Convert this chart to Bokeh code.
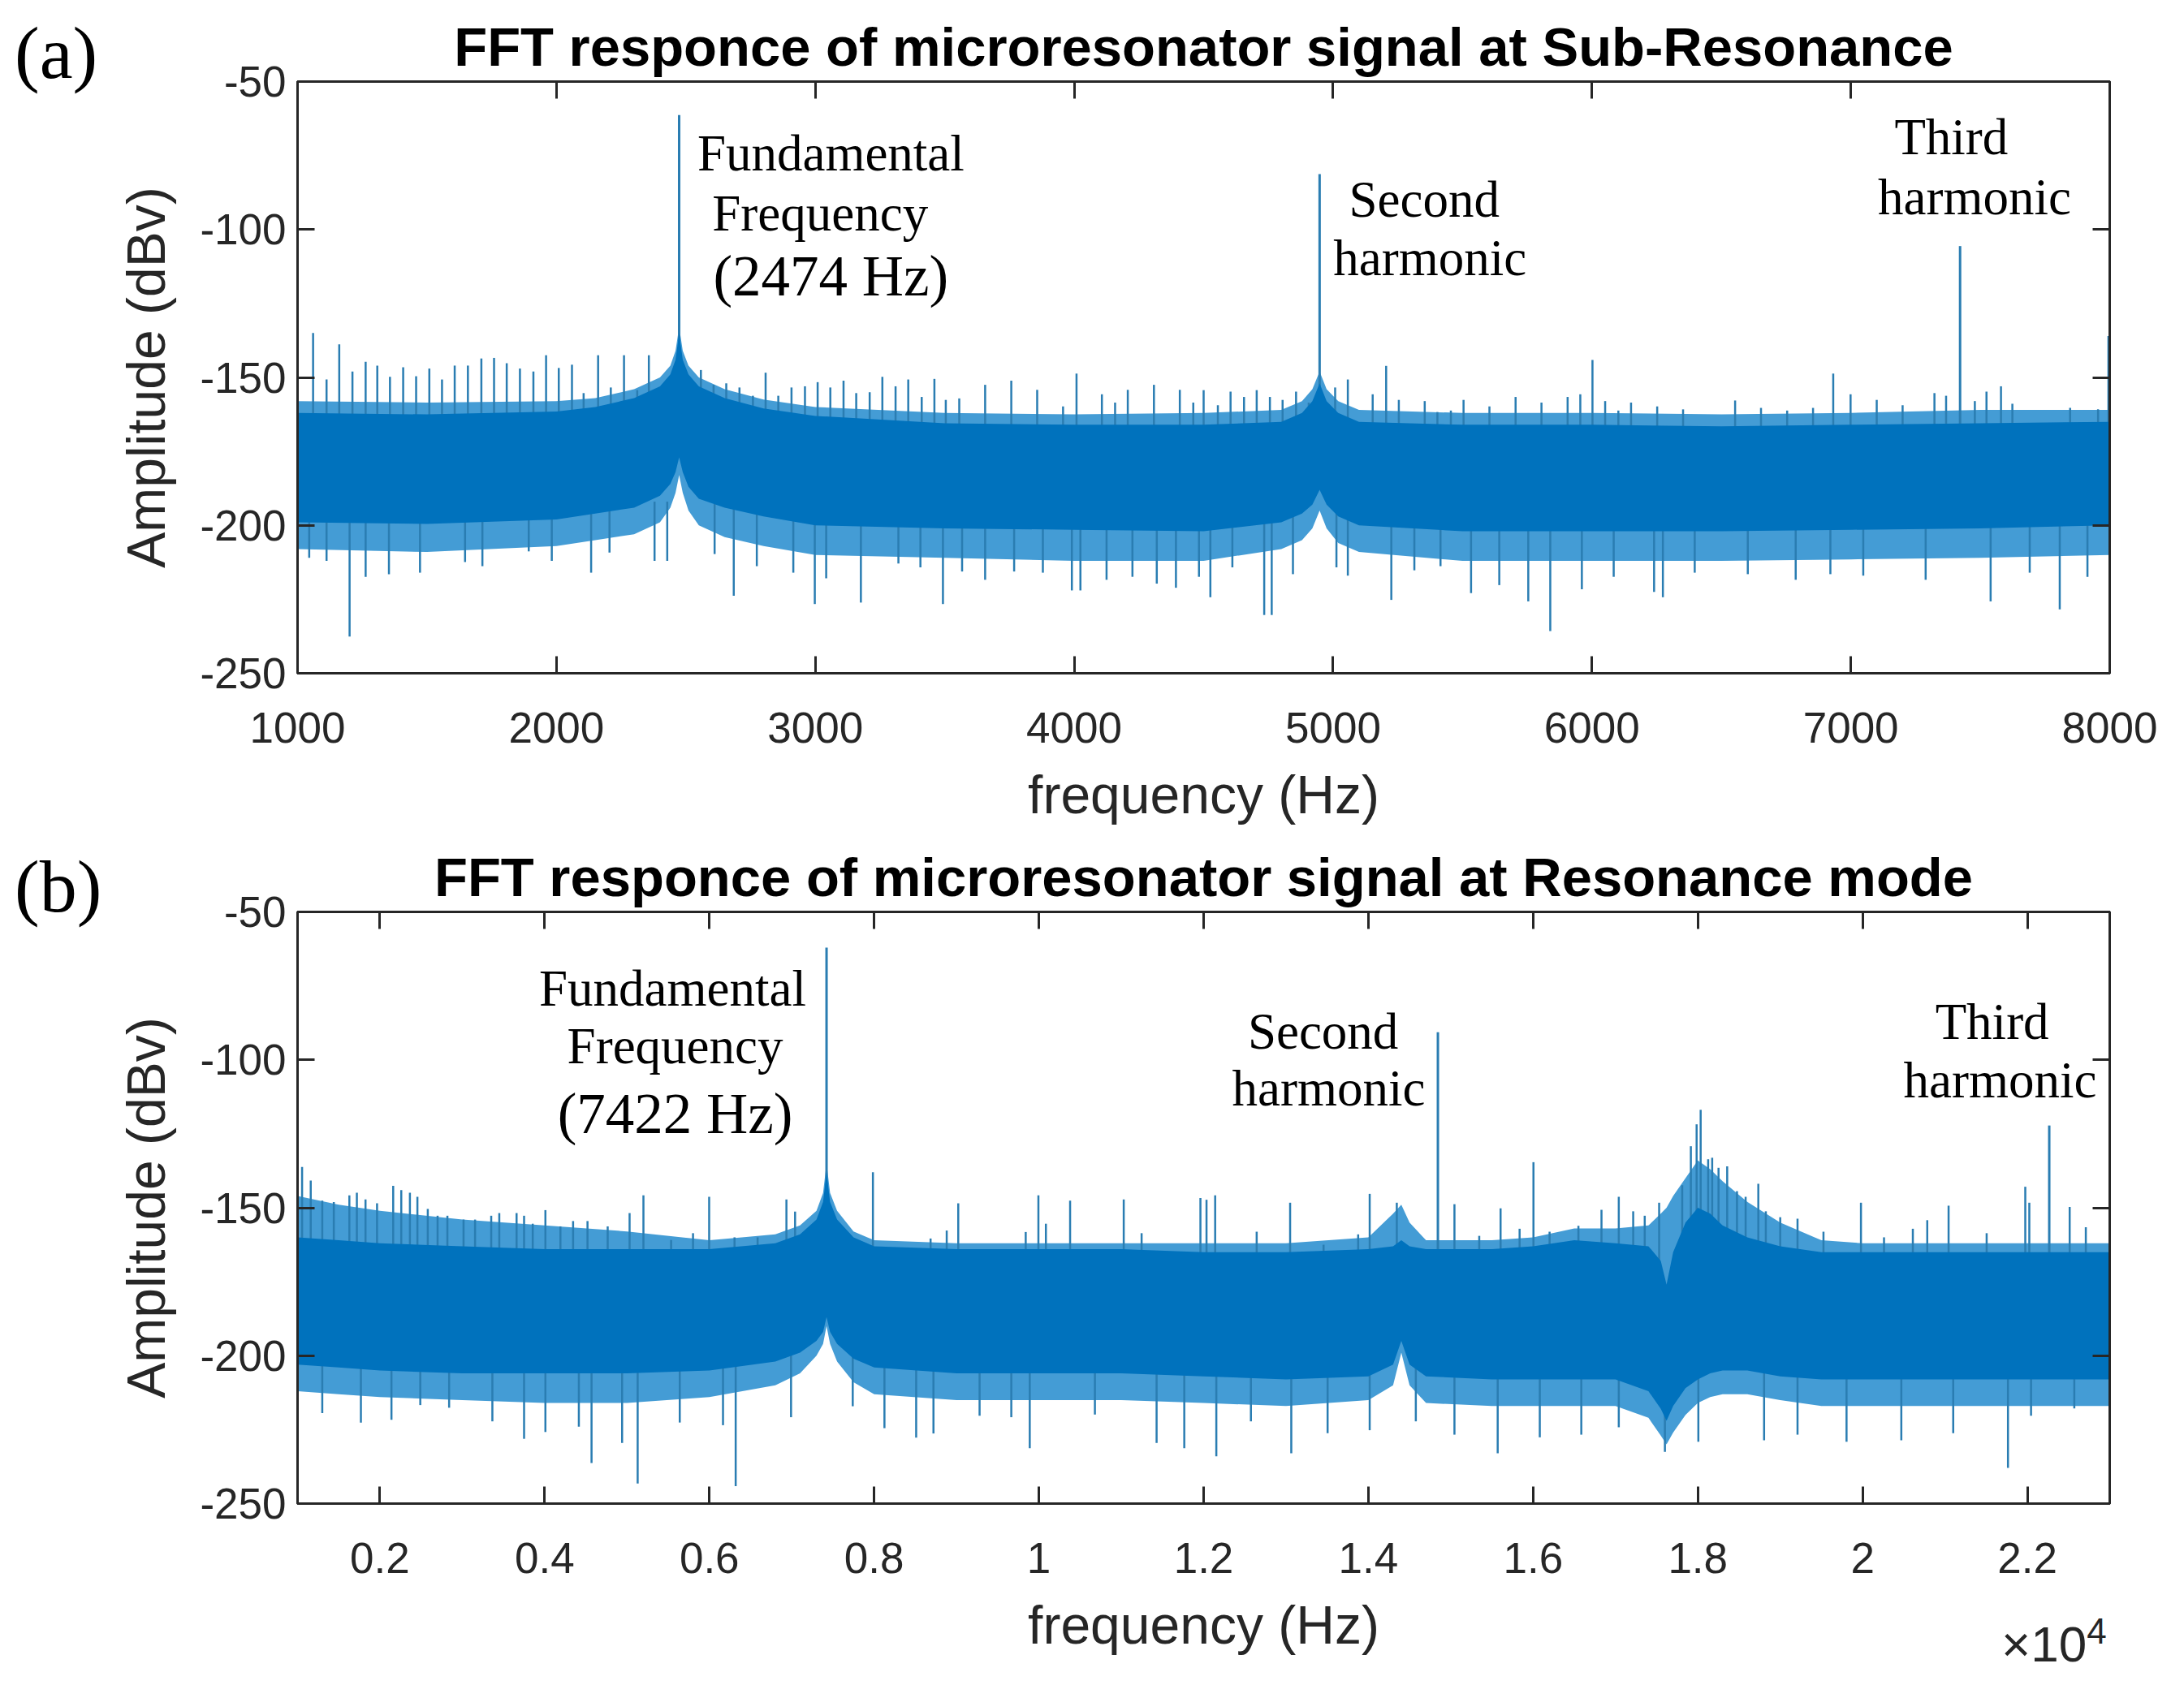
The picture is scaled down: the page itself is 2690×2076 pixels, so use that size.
from bokeh.plotting import figure
from bokeh.layouts import column, row
from bokeh.models import FixedTicker, LinearAxis, Range1d, CustomJSTickFormatter, Div
from bokeh.core.properties import value
from bokeh.embed import file_html
from bokeh.resources import INLINE

# ---------------- (a) sub-resonance : values ----------------
a_env_hz = [1000, 1500, 2000, 2150, 2300, 2400, 2440, 2460, 2474, 2488, 2510, 2550, 2650, 2800,
            3000, 3500, 4000, 4500, 4800, 4880, 4920, 4948, 4975, 5020, 5100, 5500, 6000, 6500,
            7000, 7500, 8000]
a_core_top = [-162, -162.5, -161.5, -160, -157, -153, -149, -144, -135, -144, -149, -153, -157, -160.5,
              -163, -165.5, -166, -166, -165, -162, -158, -152, -158, -162, -165, -166, -166, -166.5,
              -166, -165.5, -165]
a_fringe_top = [-158, -158.5, -158, -157, -154, -150, -146, -141, -133, -141, -146, -150, -154, -157.5,
                -160, -162, -162.5, -162, -161, -158, -154, -148, -154, -158, -161, -162, -162, -162.5,
                -162, -161, -161]
a_core_bot = [-199, -199.5, -198, -196, -194, -190, -186, -182, -177, -182, -187, -191, -194, -197,
              -200, -201, -201.5, -202, -199, -196, -193, -188, -193, -197, -200, -202, -202, -202,
              -201.5, -201, -200]
a_fringe_bot = [-208, -209, -207, -205, -203, -199, -194, -189, -183, -189, -195, -200, -204, -207,
                -210, -211, -212, -212, -208, -205, -201, -195, -201, -206, -209, -212, -212, -212,
                -211.5, -211, -210]

a_up_hz = [1060, 1112, 1161, 1212, 1263, 1308, 1357, 1408, 1458, 1509, 1558, 1607, 1658, 1710, 1759,
           1808, 1859, 1911, 1960, 2009, 2060, 2105, 2161, 2210, 2261, 2312, 2357, 2558, 2607, 2656,
           2707, 2759, 2808, 2857, 2908, 2960, 3009, 3058, 3109, 3158, 3210, 3259, 3310, 3359, 3411,
           3460, 3504, 3556, 3656, 3757, 3857, 3957, 4009, 4107, 4158, 4207, 4308, 4408, 4460, 4500,
           4555, 4604, 4656, 4705, 4756, 4805, 4857, 4906, 5008, 5057, 5153, 5205, 5254, 5354, 5403,
           5455, 5504, 5604, 5705, 5805, 5906, 5955, 6002, 6051, 6102, 6151, 6252, 6352, 6553, 6653,
           6754, 6854, 6932, 6999, 7100, 7200, 7323, 7368, 7479, 7524, 7580, 7624, 7847, 7955, 7995]
a_up_db = [-135, -150.7, -138.8, -148, -144.7, -146, -149.8, -146.6, -149.6, -147, -150.7, -146, -146,
           -143.6, -143.4, -145.2, -147, -148, -142.5, -146.8, -145.7, -155.3, -142.5, -153.4, -142.5,
           -154.3, -142.5, -147.5, -152.5, -152, -153.4, -156.2, -148.4, -156.2, -153.4, -153, -151.6,
           -153.4, -151.1, -155.3, -155, -149.8, -153, -150.7, -156.6, -150.5, -157.6, -157.1, -152.5,
           -151.1, -154.2, -159.8, -148.7, -155.7, -158.5, -154.2, -152.5, -154.2, -158.5, -154.3,
           -159.4, -154.8, -156.6, -154.3, -156.6, -157.6, -154.8, -158.5, -153.4, -150.7, -155.7,
           -146.1, -157.6, -158, -161.7, -161.2, -157.6, -159.8, -156.6, -158.5, -156.6, -155.7,
           -144.1, -158, -161.2, -158.5, -159.8, -160.8, -157.8, -160.3, -161.2, -160.3, -148.7,
           -155.7, -157.6, -159.4, -155.3, -156.2, -158, -154.8, -153, -158.9, -160.3, -160.8, -136]
a_down_hz = [1045, 1112, 1201, 1263, 1353, 1473, 1647, 1714, 1893, 1982, 2134, 2205, 2379, 2428, 2611,
             2685, 2774, 2915, 2998, 3042, 3176, 3321, 3406, 3493, 3567, 3656, 3768, 3879, 3991, 4024,
             4125, 4225, 4319, 4393, 4482, 4526, 4611, 4734, 4763, 4845, 5013, 5057, 5225, 5314, 5415,
             5533, 5642, 5754, 5839, 5961, 6084, 6240, 6274, 6397, 6602, 6787, 6921, 7048, 7289, 7540,
             7691, 7807, 7914]
a_down_db = [-211, -212, -237.6, -217.4, -216.5, -216, -212.4, -213.8, -208.8, -212, -216, -209.2, -212,
             -212, -209.7, -223.8, -213.8, -216, -226.6, -217.9, -226.1, -212.9, -214.2, -226.6, -215.6,
             -218.4, -215.6, -216, -222, -222, -218.4, -217.4, -219.7, -221.1, -217.4, -224.3, -214.2,
             -230.3, -230.3, -216.5, -214.2, -217, -225.2, -215.2, -213.8, -222.9, -220.2, -225.7,
             -235.7, -221.6, -217.4, -222.5, -224.3, -216, -216.5, -218.4, -216.5, -217, -218.4,
             -225.7, -216, -228.4, -217.4]
a_peak_hz = [2474, 4948, 7422]
a_peak_db = [-61.3, -81.3, -105.6]

a_ticks = [1000, 2000, 3000, 4000, 5000, 6000, 7000, 8000]

# ---------------- (b) resonance mode ----------------
b_env_hz = [1000, 1500, 2000, 3000, 4000, 5000, 6000, 6800, 7100, 7300, 7380, 7422, 7465, 7550, 7750,
            8000, 9000, 10000, 11000, 12000, 13000, 14000, 14300, 14400, 14500, 14700, 15500, 16000,
            16500, 17000, 17400, 17550, 17620, 17700, 17850, 18000, 18150, 18300, 18600, 19000, 19500,
            20000, 21000, 22000, 23000]
b_core_top = [-160, -161, -162, -163, -164, -164, -164, -162, -159, -154, -148, -138, -148, -154, -160,
              -163, -164, -164, -164, -165, -165, -164, -163, -161, -163, -164, -164, -163,
              -161, -162, -163, -168, -176, -165, -155, -150, -152, -156, -160, -163, -165,
              -165, -165, -165, -165]
b_fringe_top = [-146, -149, -151, -154, -156, -158, -161, -159, -156, -151, -145, -135, -145, -151, -158,
                -161, -162, -162, -162, -162, -162, -160, -152, -149, -155, -161, -161, -160,
                -157, -157, -156, -152, -150, -146, -140, -134, -137, -141, -148, -155, -161,
                -162, -162, -162, -162]
b_core_bot = [-203, -204, -205, -206, -206, -206, -205, -202, -199, -195, -192, -187, -192, -196, -201,
              -204, -206, -206, -206, -207, -208, -207, -203, -195, -203, -207, -208, -208,
              -208, -208, -212, -218, -222, -217, -211, -208, -206, -205, -205, -207, -208,
              -208, -208, -208, -208]
b_fringe_bot = [-212, -213, -214, -215, -216, -216, -214, -210, -206, -200, -196, -190, -196, -202, -209,
                -213, -215, -215, -215, -216, -217, -215, -210, -199, -210, -216, -217, -217,
                -217, -217, -221, -227, -230, -226, -220, -216, -214, -213, -213, -215, -217,
                -217, -217, -217, -217]

b_up_hz = [1055, 1160, 1300, 1440, 1629, 1720, 1825, 1965, 2161, 2259, 2364, 2455, 2581, 2700, 2819,
           3015, 3155, 3351, 3449, 3659, 3750, 3855, 4009, 4191, 4345, 4520, 4765, 5031, 5199, 5535,
           5801, 5997, 6305, 6585, 6935, 7040, 7985, 8685, 8881, 9021, 9840, 9994, 10085, 10379, 11030,
           11247, 11961, 12035, 12140, 12644, 13050, 13456, 13876, 14016, 14345, 15045, 15346, 15605,
           15836, 16004, 16200, 16550, 16830, 17040, 17215, 17355, 17530, 17810, 17915, 17985, 18034,
           18125, 18174, 18251, 18356, 18475, 18580, 18734, 18825, 19000, 19210, 19525, 19980, 20260,
           20610, 20785, 21044, 21506, 21975, 22024, 22514, 22710]
b_up_db = [-136.2, -140.8, -147.6, -148.1, -145.8, -144.9, -147.2, -148.5, -142.6, -144, -144.9, -146.3,
           -150.4, -152.7, -152.7, -154, -154, -152.7, -151.8, -151.8, -152.7, -155.4, -150.8, -156.3,
           -154.5, -154.5, -156.3, -151.8, -145.8, -160.9, -158.6, -146.3, -160, -160, -147.2, -151.3,
           -138, -160.4, -157.7, -148.5, -158.2, -145.8, -155.4, -147.6, -147.2, -158.6, -146.7,
           -147.3, -145.8, -158.1, -148.3, -162.5, -159, -145.3, -148.3, -148.8, -159.5, -150.2,
           -157.1, -134.6, -158.1, -156.1, -150.7, -146.3, -151.2, -152.7, -148.3, -142.4, -129.2,
           -121.8, -116.9, -133.6, -133.1, -136.5, -136, -144.4, -146.3, -141.9, -151.2, -153.2,
           -153.7, -158.1, -148.3, -160, -157.1, -154.2, -149.3, -158.6, -142.9, -148.3, -149.7, -156.6]
b_down_hz = [1300, 1769, 2140, 2490, 2840, 3365, 3750, 4009, 4415, 4569, 4940, 5129, 5640, 6165, 6319,
             6991, 7740, 8125, 8510, 8720, 9280, 9665, 9889, 10680, 11429, 11765, 12154, 12574, 13064,
             13505, 14016, 14576, 15045, 15570, 16081, 16585, 17040, 17600, 18006, 18804, 19210, 19805,
             20470, 21100, 21765, 22045, 22570]
b_down_db = [-219.4, -222.6, -221.7, -216.7, -217.6, -222.2, -228.1, -225.8, -224, -236.3, -229.5, -243.2,
             -222.6, -223.5, -244.1, -220.8, -217.1, -224.5, -227.7, -226.3, -220.3, -220.8, -231.3,
             -219.9, -229.5, -231.3, -234, -222.2, -233, -226.2, -225.2, -222.2, -226.7, -233, -227.6,
             -226.7, -224.2, -232.5, -229.1, -228.6, -226.7, -229.1, -228.6, -226.2, -237.9, -220.3,
             -217.8]
b_peak_hz = [7422, 14844, 22266]
b_peak_db = [-62.1, -90.7, -122.2]

b_ticks = [2000, 4000, 6000, 8000, 10000, 12000, 14000, 16000, 18000, 20000, 22000]
b_tick_labels = ["0.2", "0.4", "0.6", "0.8", "1", "1.2", "1.4", "1.6", "1.8", "2", "2.2"]

y_ticks = [-250, -200, -150, -100, -50]

CORE = "#0072BD"
FRINGE = "#1583cb"
SPIKE = "#2A7DB2"
AXIS = "#262626"
SANS = "Liberation Sans"
SERIF = "Liberation Serif"


def make_panel(title, xr, ticks, xfmt, env, ups, downs, peaks, top_border, bottom_border):
    p = figure(frame_width=2232, frame_height=729, x_range=Range1d(*xr), y_range=Range1d(-250, -50),
               min_border_left=236, min_border_right=70, min_border_top=top_border,
               min_border_bottom=bottom_border, output_backend="svg", toolbar_location=None,
               title=title)
    p.grid.visible = False
    p.outline_line_color = AXIS
    p.outline_line_width = 3
    p.title.align = "center"
    p.title.text_font = SANS
    p.title.text_font_size = "67px"
    p.title.text_font_style = "bold"
    p.title.text_color = "black"
    p.title.standoff = 12

    hz, ctop, ftop, cbot, fbot = env
    p.varea(x=hz, y1=fbot, y2=ftop, color=FRINGE, alpha=0.8)
    p.segment(x0=ups[0], y0=[-172] * len(ups[0]), x1=ups[0], y1=ups[1], color=SPIKE, line_width=2.5)
    p.segment(x0=downs[0], y0=[-192] * len(downs[0]), x1=downs[0], y1=downs[1], color=SPIKE,
              line_width=2.5)
    p.segment(x0=peaks[0], y0=[-172] * 3, x1=peaks[0], y1=peaks[1], color=SPIKE, line_width=3)
    p.varea(x=hz, y1=cbot, y2=ctop, color=CORE)

    xax, yax = p.xaxis[0], p.yaxis[0]
    for ax in (xax, yax):
        ax.major_tick_in = 21
        ax.major_tick_out = 0
        ax.minor_tick_line_color = None
        ax.axis_line_width = 3
        ax.axis_line_color = AXIS
        ax.major_tick_line_width = 3
        ax.major_tick_line_color = AXIS
        ax.major_label_text_font = SANS
        ax.major_label_text_font_size = "53px"
        ax.major_label_text_color = AXIS
        ax.axis_label_text_font = SANS
        ax.axis_label_text_font_size = "66px"
        ax.axis_label_text_font_style = "normal"
        ax.axis_label_text_color = AXIS
    xax.ticker = FixedTicker(ticks=ticks)
    yax.ticker = FixedTicker(ticks=y_ticks)
    xax.formatter = xfmt
    yax.formatter = CustomJSTickFormatter(code="return tick.toString();")
    xax.axis_label = "frequency (Hz)"
    yax.axis_label = "Amplitude (dBv)"
    xax.major_label_text_line_height = 1.0
    xax.axis_label_text_line_height = 1.0
    xax.major_label_standoff = 48
    yax.major_label_standoff = 14
    xax.axis_label_standoff = 24
    yax.axis_label_standoff = 26

    # box with inward ticks on the other two sides
    for side, tk in (("above", ticks), ("right", y_ticks)):
        ax = LinearAxis(ticker=FixedTicker(ticks=tk), major_tick_in=21, major_tick_out=0,
                        minor_tick_line_color=None, axis_line_width=3, axis_line_color=AXIS,
                        major_tick_line_width=3, major_tick_line_color=AXIS,
                        formatter=CustomJSTickFormatter(code="return '';"),
                        major_label_standoff=0)
        p.add_layout(ax, side)
    return p


def add_notes(p, xs, ys, texts, size):
    p.text(x=xs, y=ys, text=texts, text_font=value(SERIF), text_font_size=size,
           text_align="center", text_baseline="middle", text_color="black")


def tag(txt, top):
    return Div(text=f'<div style="font-family:\'Liberation Serif\';font-size:92px;line-height:1;'
                    f'padding-left:18px;color:black">{txt}</div>',
               width=130, height=100, margin=(top, 0, 0, 0))


pa = make_panel("FFT responce of microresonator signal at Sub-Resonance", (1000, 8000), a_ticks,
                CustomJSTickFormatter(code="return tick.toString();"),
                (a_env_hz, a_core_top, a_fringe_top, a_core_bot, a_fringe_bot),
                (a_up_hz, a_up_db), (a_down_hz, a_down_db), (a_peak_hz, a_peak_db), 100, 150)
add_notes(pa, [3060, 3019, 5352, 5374, 7388, 7478], [-74.4, -94.7, -90, -109.8, -68.9, -89],
          ["Fundamental", "Frequency", "Second", "harmonic", "Third", "harmonic"], "63px")
add_notes(pa, [3060], [-115.8], ["(2474 Hz)"], "71px")

pb = make_panel("FFT responce of microresonator signal at Resonance mode", (1000, 23000), b_ticks,
                CustomJSTickFormatter(args=dict(labels=b_tick_labels), code="return labels[index];"),
                (b_env_hz, b_core_top, b_fringe_top, b_core_bot, b_fringe_bot),
                (b_up_hz, b_up_db), (b_down_hz, b_down_db), (b_peak_hz, b_peak_db), 105, 150)
add_notes(pb, [5554, 5584, 13450, 13518, 21572, 21670], [-75.8, -95.5, -90.6, -109.8, -87.3, -107],
          ["Fundamental", "Frequency", "Second", "harmonic", "Third", "harmonic"], "63px")
add_notes(pb, [5584], [-118.3], ["(7422 Hz)"], "71px")

times_ten = Div(text='<div style="font-family:\'Liberation Sans\';font-size:62px;line-height:1;'
                     'color:#262626">×10<sup style="font-size:44px">4</sup></div>',
                width=230, height=70, margin=(-53, 0, 0, 2465))

page = column(row(tag("(a)", 19), pa),
              row(tag("(b)", 28), pb),
              times_ten)
open("out.html", "w").write(file_html(page, INLINE))
